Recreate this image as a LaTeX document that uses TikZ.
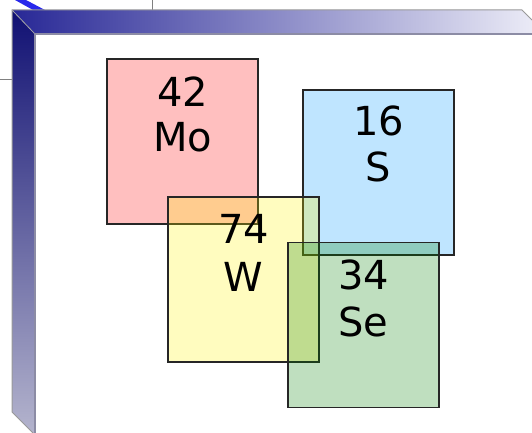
\documentclass[tikz,border=0pt]{standalone}
\usepackage{fontspec}
\setmainfont{DejaVu Sans}
\definecolor{framedark}{RGB}{40,40,150}
\definecolor{framelight}{RGB}{234,234,246}
\definecolor{sidedark}{RGB}{16,16,115}
\definecolor{sidelight}{RGB}{180,180,205}
\definecolor{frameedge}{RGB}{140,140,165}
\definecolor{cornerblue}{RGB}{40,40,235}
\definecolor{sblue}{RGB}{0,153,255}
\definecolor{segreen}{RGB}{0,128,0}
\begin{document}
\begin{tikzpicture}[x=1pt,y=-1pt,
  elbox/.style={draw=black!85, line width=1.2pt, fill opacity=0.25,
    minimum width=151pt, minimum height=165pt, inner sep=0pt},
  eltext/.style={font=\fontsize{40}{46}\selectfont, anchor=base,
    inner sep=0pt, text=black}]
\useasboundingbox (0,0) rectangle (532,433);

% thin guide lines and the blue corner stroke
\draw[gray, line width=0.8pt] (152,0) -- (152,10);
\draw[gray, line width=0.8pt] (0,79) -- (12,79);
\fill[cornerblue] (15,0) -- (26,0) -- (45,10) -- (33,10) -- cycle;

% bevelled frame: top bar and left bar
\shade[left color=framedark, right color=framelight]
  (12,10) -- (522,10) -- (532,20) -- (532,34) -- (35,34) -- cycle;
\shade[top color=sidedark, bottom color=sidelight]
  (12,10) -- (35,34) -- (35,433) -- (33,433) -- (12,412) -- cycle;
\draw[gray!80, line width=1pt] (33,433) -- (12,412) -- (12,10) -- (522,10) -- (532,20);
\draw[gray!70, line width=0.8pt] (12,10) -- (35,34);
\draw[frameedge, line width=1.6pt] (35,433) -- (35,34) -- (532,34);

% element boxes
\node[elbox, fill=red] (mo) at (182.5,141.5) {};
\node[elbox, fill=sblue] (s) at (378.5,172.5) {};
\node[elbox, fill=yellow] (w) at (243.5,279.5) {};
\node[elbox, fill=segreen] (se) at (363.5,325) {};

% element labels
\node[eltext] (mo-z) at ([yshift=-48pt]mo.north) {42};
\node[eltext] (mo-sym) at ([yshift=-93pt]mo.north) {Mo};
\node[eltext] (s-z) at ([yshift=-46pt]s.north) {16};
\node[eltext] (s-sym) at ([yshift=-92pt]s.north) {S};
\node[eltext] (w-z) at ([yshift=-47pt]w.north) {74};
\node[eltext] (w-sym) at ([yshift=-95pt]w.north) {W};
\node[eltext] (se-z) at ([yshift=-48pt]se.north) {34};
\node[eltext] (se-sym) at ([yshift=-95pt]se.north) {Se};
\end{tikzpicture}
\end{document}
